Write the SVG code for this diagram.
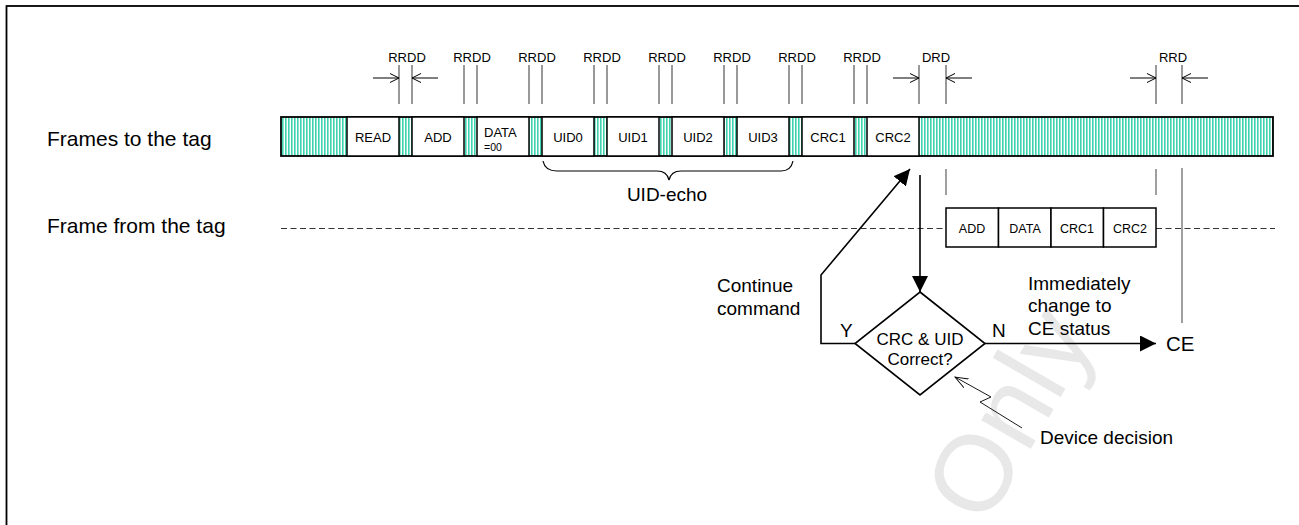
<svg xmlns="http://www.w3.org/2000/svg" width="1299" height="525" viewBox="0 0 1299 525">
<defs>
<pattern id="hatch" width="3" height="10" patternUnits="userSpaceOnUse"><rect width="3" height="10" fill="#ffffff"/><rect width="1.6" height="10" fill="#3fd2b0"/></pattern>
<marker id="filled" markerUnits="userSpaceOnUse" markerWidth="18" markerHeight="18" refX="16" refY="8" orient="auto"><path d="M0,0 L16,8 L0,16 z" fill="#000"/></marker>
<marker id="open" markerUnits="userSpaceOnUse" markerWidth="12" markerHeight="12" refX="9" refY="5" orient="auto"><path d="M0,0.5 L9,5 L0,9.5" fill="none" stroke="#000" stroke-width="1"/></marker>
<marker id="openthin" markerUnits="userSpaceOnUse" markerWidth="16" markerHeight="14" refX="13" refY="6" orient="auto"><path d="M0,1 L13,6 L0,11" fill="none" stroke="#000" stroke-width="0.9"/></marker>
</defs>
<style>
text{font-family:"Liberation Sans",Arial,sans-serif;fill:#000}
.lbl{font-size:21px}
.big{font-size:19px}
.sm{font-size:13px;text-anchor:middle}
.dim{font-size:13px;text-anchor:middle}
.box{fill:#fff;stroke:#000;stroke-width:1.5}
.dl{stroke:#555;stroke-width:1.2}
.conn{fill:none;stroke:#000;stroke-width:1.6}
.gl{stroke:#888;stroke-width:1.6}
</style>
<rect width="1299" height="525" fill="#fff"/>
<text transform="translate(985,528) rotate(-60)" font-size="108" style="fill:#e8e8e8">Only</text>
<rect x="6.5" y="6" width="1320" height="620" fill="none" stroke="#000" stroke-width="1.8"/>

<g id="row-labels">
<text class="lbl" x="47" y="146">Frames to the tag</text>
<text class="lbl" x="47" y="233">Frame from the tag</text>
</g>

<g id="frames-to-tag">
<rect x="281" y="117" width="992" height="39" fill="url(#hatch)" stroke="#000" stroke-width="1.8"/>
<g id="f-read"><rect class="box" x="347" y="117" width="52" height="39"/><text class="sm" x="373" y="142">READ</text></g>
<g id="f-add"><rect class="box" x="412" y="117" width="52" height="39"/><text class="sm" x="438" y="142">ADD</text></g>
<g id="f-data"><rect class="box" x="477" y="117" width="52" height="39"/><text x="484" y="137" font-size="13">DATA</text><text x="484" y="151" font-size="10.5">=00</text></g>
<g id="f-uid0"><rect class="box" x="542" y="117" width="52" height="39"/><text class="sm" x="568" y="142">UID0</text></g>
<g id="f-uid1"><rect class="box" x="607" y="117" width="52" height="39"/><text class="sm" x="633" y="142">UID1</text></g>
<g id="f-uid2"><rect class="box" x="672" y="117" width="52" height="39"/><text class="sm" x="698" y="142">UID2</text></g>
<g id="f-uid3"><rect class="box" x="737" y="117" width="52" height="39"/><text class="sm" x="763" y="142">UID3</text></g>
<g id="f-crc1"><rect class="box" x="802" y="117" width="52" height="39"/><text class="sm" x="828" y="142">CRC1</text></g>
<g id="f-crc2"><rect class="box" x="867" y="117" width="52" height="39"/><text class="sm" x="893" y="142">CRC2</text></g>
</g>

<g id="dimensions">
<g class="dl">
<line x1="399" y1="65" x2="399" y2="104"/><line x1="412" y1="65" x2="412" y2="104"/>
<line x1="464" y1="65" x2="464" y2="104"/><line x1="477" y1="65" x2="477" y2="104"/>
<line x1="529" y1="65" x2="529" y2="104"/><line x1="542" y1="65" x2="542" y2="104"/>
<line x1="594" y1="65" x2="594" y2="104"/><line x1="607" y1="65" x2="607" y2="104"/>
<line x1="659" y1="65" x2="659" y2="104"/><line x1="672" y1="65" x2="672" y2="104"/>
<line x1="724" y1="65" x2="724" y2="104"/><line x1="737" y1="65" x2="737" y2="104"/>
<line x1="789" y1="65" x2="789" y2="104"/><line x1="802" y1="65" x2="802" y2="104"/>
<line x1="854" y1="65" x2="854" y2="104"/><line x1="867" y1="65" x2="867" y2="104"/>
<line x1="919" y1="65" x2="919" y2="104"/><line x1="946" y1="65" x2="946" y2="104"/>
<line x1="1156" y1="65" x2="1156" y2="104"/><line x1="1182" y1="65" x2="1182" y2="104"/>
</g>
<g stroke="#000" stroke-width="1">
<line x1="373" y1="78" x2="399" y2="78" marker-end="url(#open)"/>
<line x1="438" y1="78" x2="412" y2="78" marker-end="url(#open)"/>
<line x1="893" y1="78" x2="919" y2="78" marker-end="url(#open)"/>
<line x1="972" y1="78" x2="946" y2="78" marker-end="url(#open)"/>
<line x1="1130" y1="78" x2="1156" y2="78" marker-end="url(#open)"/>
<line x1="1208" y1="78" x2="1182" y2="78" marker-end="url(#open)"/>
</g>
<text class="dim" x="407" y="62">RRDD</text>
<text class="dim" x="472" y="62">RRDD</text>
<text class="dim" x="537" y="62">RRDD</text>
<text class="dim" x="602" y="62">RRDD</text>
<text class="dim" x="667" y="62">RRDD</text>
<text class="dim" x="732" y="62">RRDD</text>
<text class="dim" x="797" y="62">RRDD</text>
<text class="dim" x="862" y="62">RRDD</text>
<text class="dim" x="936" y="62">DRD</text>
<text class="dim" x="1173" y="62">RRD</text>
</g>

<g id="uid-echo">
<path d="M543,161 Q545,171 557,171 L657,171 Q667,171 669,180 Q671,171 681,171 L781,171 Q791,171 793,161" fill="none" stroke="#000" stroke-width="1.2"/>
<text class="big" x="667" y="201" text-anchor="middle">UID-echo</text>
</g>

<g id="frame-from-tag">
<line x1="281" y1="228.5" x2="946" y2="228.5" stroke="#333" stroke-width="1.1" stroke-dasharray="6,3.5"/>
<line x1="1156" y1="228.5" x2="1275" y2="228.5" stroke="#333" stroke-width="1.1" stroke-dasharray="6,3.5"/>
<g id="r-add"><rect class="box" x="946" y="208" width="52.5" height="39"/><text x="972" y="233" font-size="12.5" text-anchor="middle">ADD</text></g>
<g id="r-data"><rect class="box" x="998.5" y="208" width="52.5" height="39"/><text x="1025" y="233" font-size="12.5" text-anchor="middle">DATA</text></g>
<g id="r-crc1"><rect class="box" x="1051" y="208" width="52.5" height="39"/><text x="1077" y="233" font-size="12.5" text-anchor="middle">CRC1</text></g>
<g id="r-crc2"><rect class="box" x="1103.5" y="208" width="52.5" height="39"/><text x="1130" y="233" font-size="12.5" text-anchor="middle">CRC2</text></g>
</g>

<g id="guides">
<line class="gl" x1="946" y1="169" x2="946" y2="195"/>
<line class="gl" x1="1156" y1="169" x2="1156" y2="195"/>
<line class="gl" x1="1182" y1="168" x2="1182" y2="323"/>
</g>

<g id="decision">
<path d="M920,292 L985,343.5 L920,395 L855,343.5 Z" fill="#fff" stroke="#000" stroke-width="1.6"/>
<text x="920" y="345" font-size="17" text-anchor="middle">CRC &amp; UID</text>
<text x="920" y="365" font-size="17" text-anchor="middle">Correct?</text>
</g>

<g id="ce"><text x="1166" y="351" font-size="20.5">CE</text></g>

<g id="connectors">
<line class="conn" x1="920" y1="175" x2="920" y2="292" marker-end="url(#filled)"/>
<polyline class="conn" points="855,343.5 821,343.5 821,275 910,169" marker-end="url(#filled)"/>
<line class="conn" x1="985" y1="343.5" x2="1156" y2="343.5" marker-end="url(#filled)"/>
<polyline points="1022,428 980,402 991,397 955,377" fill="none" stroke="#000" stroke-width="0.9" marker-end="url(#openthin)"/>
</g>

<g id="annotations">
<text class="big" x="717" y="292">Continue</text>
<text class="big" x="717" y="315">command</text>
<text class="big" x="840" y="337">Y</text>
<text class="big" x="992" y="337">N</text>
<text class="big" x="1028" y="290">Immediately</text>
<text class="big" x="1028" y="312">change to</text>
<text class="big" x="1028" y="335">CE status</text>
<text class="big" x="1040" y="444">Device decision</text>
</g>
</svg>
